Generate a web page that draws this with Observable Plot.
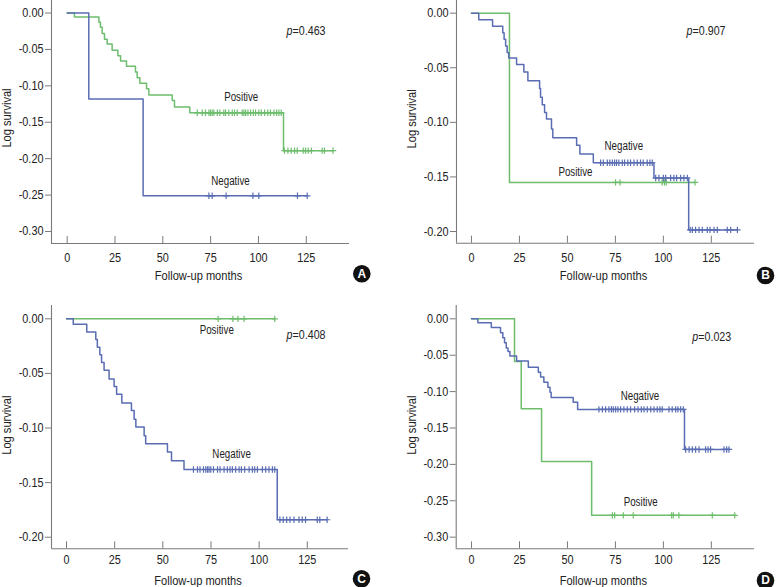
<!DOCTYPE html>
<html><head><meta charset="utf-8">
<script src="https://cdn.jsdelivr.net/npm/d3@7"></script>
<script src="https://cdn.jsdelivr.net/npm/@observablehq/plot@0.6"></script>
<style>
body{margin:0;background:#fff;}
#wrap{position:relative;width:776px;height:587px;overflow:hidden;background:#fff;}
.panel{position:absolute;}
</style></head><body><div id="wrap"></div>
<script>
// ---------- data ----------
const xTicks = [0, 25, 50, 75, 100, 125];
const yTicks3 = [0, -0.05, -0.10, -0.15, -0.20, -0.25, -0.30];
const yTicks2 = [0, -0.05, -0.10, -0.15, -0.20];
const groupNames = ["Positive", "Negative"];
const pValues = ["0.463", "0.907", "0.408", "0.023"];
const panelLetters = ["A", "B", "C", "D"];
const xTitle = "Follow-up months";
const yTitle = "Log survival";

// Panel A
const A_posTimes = [3.8, 16.6, 17.4, 18.3, 19.5, 20.9, 23.5, 26.5, 27.9, 31.0, 35.7, 36.6, 38.0, 41.5, 42.7, 54.9, 56.1, 64.1, 113.1];
const A_posLevels = [-0.0055, -0.0128, -0.0197, -0.028, -0.036, -0.0425, -0.051, -0.0585, -0.066, -0.073, -0.081, -0.089, -0.0965, -0.104, -0.1125, -0.120, -0.129, -0.137, -0.189];
const A_posCensor = [68.0, 70.6, 72.3, 74.1, 74.9, 75.8, 76.7, 78.5, 79.8, 81.9, 82.8, 84.5, 86.3, 87.5, 88.9, 91.5, 92.4, 93.3, 94.5, 95.9, 97.3, 98.5, 100.2, 101.5, 103.2, 104.9, 106.3, 108.1, 109.5, 110.7, 111.9, 113.6, 115.4, 117.1, 118.9, 120.3, 123.4, 124.6, 126.0, 127.7, 133.3, 134.5, 139.0];
const A_negTimes = [11.3, 39.7];
const A_negLevels = [-0.118, -0.251];
const A_negCensor = [74.1, 75.8, 83.1, 97.1, 100.2, 120.4, 125.5];

// Panel B
const B_posTimes = [19.8];
const B_posLevels = [-0.155];
const B_posCensor = [75.1, 77.4, 99.4, 100.6, 101.5, 116.5];
const B_negTimes = [3.8, 11.0, 16.3, 17.0, 17.8, 18.6, 19.4, 23.5, 27.3, 29.4, 35.5, 36.0, 36.9, 38.1, 39.1, 41.7, 42.4, 54.8, 56.5, 63.5, 95.1, 113.2];
const B_negLevels = [-0.006, -0.012, -0.018, -0.024, -0.030, -0.036, -0.041, -0.047, -0.054, -0.062, -0.069, -0.077, -0.084, -0.091, -0.097, -0.106, -0.114, -0.121, -0.129, -0.137, -0.151, -0.1985];
const B_negCensor = [67.3, 68.7, 70.8, 72.1, 73.4, 74.6, 75.6, 76.8, 78.6, 79.8, 81.5, 82.9, 84.7, 86.4, 88.1, 89.5, 91.6, 93.0, 94.2, 96.0, 97.7, 100.0, 101.2, 103.8, 105.5, 106.9, 109.0, 110.7, 112.5, 114.0, 115.1, 116.8, 118.6, 120.3, 122.9, 124.3, 126.4, 128.1, 133.3, 135.1, 138.6];

// Panel C
const C_posTimes = [];
const C_posLevels = [];
const C_posCensor = [78.7, 86.4, 89.0, 92.2, 108.1];
const C_negTimes = [3.5, 10.5, 15.2, 16.0, 17.3, 18.2, 19.5, 22.1, 24.7, 26.0, 28.7, 33.7, 35.1, 36.0, 40.3, 41.1, 52.4, 54.5, 61.0, 109.4];
const C_negLevels = [-0.005, -0.012, -0.019, -0.026, -0.033, -0.040, -0.047, -0.055, -0.062, -0.069, -0.077, -0.084, -0.092, -0.099, -0.107, -0.1145, -0.122, -0.130, -0.138, -0.184];
const C_negCensor = [65.9, 68.0, 69.3, 71.1, 72.3, 73.2, 74.0, 74.9, 76.3, 78.4, 79.7, 81.8, 83.5, 84.9, 86.1, 87.8, 89.6, 90.8, 92.5, 94.8, 96.5, 97.7, 99.1, 101.7, 103.4, 105.1, 106.9, 108.1, 110.8, 112.5, 114.3, 116.0, 118.1, 120.7, 122.4, 124.1, 130.2, 131.5, 135.3];

// Panel D
const D_posTimes = [22.4, 25.9, 36.5, 62.6];
const D_posLevels = [-0.0586, -0.1237, -0.196, -0.270];
const D_posCensor = [73.4, 74.6, 79.1, 84.3, 104.3, 105.2, 108.1, 125.5, 137.2];
const D_negTimes = [3.3, 10.3, 15.1, 16.3, 17.2, 18.1, 19.0, 20.0, 23.5, 29.6, 34.8, 36.0, 37.7, 39.8, 40.9, 41.5, 53.0, 55.3, 111.0];
const D_negLevels = [-0.0055, -0.012, -0.019, -0.026, -0.033, -0.040, -0.045, -0.051, -0.058, -0.0665, -0.0733, -0.080, -0.087, -0.094, -0.101, -0.108, -0.1145, -0.1245, -0.1795];
const D_negCensor = [66.4, 68.2, 69.9, 71.6, 72.9, 73.9, 75.1, 76.3, 77.7, 79.4, 81.2, 82.9, 85.0, 86.8, 88.5, 89.9, 91.6, 93.4, 95.1, 96.8, 98.2, 99.4, 102.9, 104.6, 106.4, 107.6, 109.0, 110.4, 111.6, 113.4, 115.1, 116.8, 118.6, 122.0, 123.3, 124.6, 131.6, 133.0, 134.2];

// group label anchor positions (data units)
const labelPosA = [[91.0, -0.116], [85.4, -0.231]];
const labelPosB = [[54.2, -0.1454], [79.4, -0.122]];
const labelPosC = [[78.0, -0.0098], [85.7, -0.1236]];
const labelPosD = [[88.2, -0.252], [87.8, -0.1067]];

// ---------- styling / layout ----------
const GREEN = "#6dbd6d";
const BLUE = "#5a6db3";
const AXIS = "#7a7a7a";
const FONT = "'Liberation Sans',Arial,sans-serif";

const panels = [
  {left: 0, top: 0, width: 388, height: 290, mL: 51, mR: 39, mT: 0, mB: 47, xd: [-8.2, 147.6], yd: [-0.3165, 0.0172], yTicks: yTicks3, tp: 10,
   pos: [A_posTimes, A_posLevels, A_posCensor], neg: [A_negTimes, A_negLevels, A_negCensor], labels: labelPosA, pdx: -24, pdy: 31, cdx: 12.3, cdy: 30.3, lyDy: -4, xlDy: 32},
  {left: 388, top: 0, width: 388, height: 290, mL: 68, mR: 22, mT: 0, mB: 47.3, xd: [-7.8, 147.5], yd: [-0.2107, 0.0116], yTicks: yTicks2, tp: 10,
   pos: [B_posTimes, B_posLevels, B_posCensor], neg: [B_negTimes, B_negLevels, B_negCensor], labels: labelPosB, pdx: -29, pdy: 31, cdx: 11, cdy: 32.3, lyDy: -3, xlDy: 32},
  {left: 0, top: 290, width: 388, height: 297, mL: 51, mR: 40, mT: 15, mB: 38.7, xd: [-7.8, 146.4], yd: [-0.2106, 0.0122], yTicks: yTicks2, tp: 6.5,
   pos: [C_posTimes, C_posLevels, C_posCensor], neg: [C_negTimes, C_negLevels, C_negCensor], labels: labelPosC, pdx: -23, pdy: 30, cdx: 13, cdy: 30, lyDy: -2, xlDy: 31.5},
  {left: 388, top: 290, width: 388, height: 297, mL: 67.7, mR: 22, mT: 15, mB: 38.7, xd: [-8.0, 147.5], yd: [-0.316, 0.0183], yTicks: yTicks3, tp: 6.5,
   pos: [D_posTimes, D_posLevels, D_posCensor], neg: [D_negTimes, D_negLevels, D_negCensor], labels: labelPosD, pdx: -23.3, pdy: 31.7, cdx: 11, cdy: 31.7, lyDy: -2, xlDy: 31.5}
];

function stepLine([times, levels, censor]) {
  const pts = [{t: 0, v: 0}];
  times.forEach((t, i) => pts.push({t, v: levels[i]}));
  const lastT = Math.max(censor.length ? censor[censor.length - 1] : 0, times.length ? times[times.length - 1] : 0);
  pts.push({t: lastT, v: levels.length ? levels[levels.length - 1] : 0});
  return pts;
}
function censorPts([times, levels, censor]) {
  return censor.map(t => {
    let v = 0;
    times.forEach((et, i) => { if (et <= t) v = levels[i]; });
    return {t, v};
  });
}

// horizontal condensing ratios, to mimic the condensed face of the original
function condenseRatio(s) {
  if (groupNames.includes(s)) return 0.78;
  if (s === xTitle || s === yTitle) return 0.82;
  if (s.startsWith("p=")) return 0.89;
  if (/^-?\d/.test(s)) return 0.87;
  return 1;
}

const wrap = document.getElementById("wrap");
panels.forEach((p, k) => {
  const frameH = p.height - p.mT - p.mB;
  const posLine = stepLine(p.pos), negLine = stepLine(p.neg);
  const posC = censorPts(p.pos), negC = censorPts(p.neg);
  const lab = groupNames.map((g, i) => ({g, t: p.labels[i][0], v: p.labels[i][1]}));
  const chart = Plot.plot({
    width: p.width, height: p.height,
    marginLeft: p.mL, marginRight: p.mR, marginTop: p.mT, marginBottom: p.mB,
    style: {fontFamily: FONT, fontSize: "12px", background: "white", overflow: "visible"},
    x: {domain: p.xd, axis: null},
    y: {domain: p.yd, axis: null},
    marks: [
      Plot.ruleX([p.xd[0]], {stroke: AXIS, strokeWidth: 1.1}),
      Plot.ruleY([p.yd[0]], {stroke: AXIS, strokeWidth: 1.1}),
      Plot.tickX(xTicks, {x: d => d, insetTop: frameH - 7, stroke: AXIS, strokeWidth: 1}),
      Plot.axisX({ticks: xTicks, tickSize: 0, tickPadding: p.tp, fill: "#222", label: null, fontSize: 12.5}),
      Plot.axisY({ticks: p.yTicks, tickFormat: d => d.toFixed(2), tickSize: 6, tickPadding: 2, stroke: AXIS, fill: "#222", label: null, fontSize: 12.5}),
      Plot.line(posLine, {x: "t", y: "v", curve: "step-after", stroke: GREEN, strokeWidth: 1.5}),
      Plot.line(negLine, {x: "t", y: "v", curve: "step-after", stroke: BLUE, strokeWidth: 1.5}),
      Plot.dot(posC, {x: "t", y: "v", symbol: "plus", r: 2.2, stroke: GREEN, strokeWidth: 1.2}),
      Plot.dot(negC, {x: "t", y: "v", symbol: "plus", r: 2.2, stroke: BLUE, strokeWidth: 1.2}),
      Plot.text(lab, {x: "t", y: "v", text: "g", fontSize: 12.5, fill: "#222", textAnchor: "middle", lineAnchor: "middle"}),
      Plot.text(["p=" + pValues[k]], {frameAnchor: "top-right", dx: p.pdx, dy: p.pdy, textAnchor: "end", lineAnchor: "middle", fontSize: 12, fill: "#222"}),
      Plot.text([yTitle], {frameAnchor: "left", rotate: -90, dx: -44.5, dy: p.lyDy, textAnchor: "middle", lineAnchor: "middle", fontSize: 13.5, fill: "#222"}),
      Plot.text([xTitle], {frameAnchor: "bottom", dx: -2, dy: p.xlDy, textAnchor: "middle", lineAnchor: "middle", fontSize: 13.5, fill: "#222"}),
      Plot.dot([panelLetters[k]], {frameAnchor: "bottom-right", dx: p.cdx, dy: p.cdy, r: 8.8, fill: "#111"}),
      Plot.text([panelLetters[k]], {frameAnchor: "bottom-right", dx: p.cdx, dy: p.cdy, textAnchor: "middle", lineAnchor: "middle", text: d => d, fill: "white", fontWeight: "bold", fontSize: 12})
    ]
  });
  const div = document.createElement("div");
  div.className = "panel";
  div.style.left = p.left + "px";
  div.style.top = p.top + "px";
  div.appendChild(chart);
  wrap.appendChild(div);
  d3.select(chart).selectAll("text").each(function () {
    const s = this.textContent;
    const r = condenseRatio(s);
    if (r !== 1) {
      const len = this.getComputedTextLength();
      this.setAttribute("textLength", (len * r).toFixed(1));
      this.setAttribute("lengthAdjust", "spacingAndGlyphs");
    }
    if (s.startsWith("p=") && this.childNodes.length === 1) {
      this.textContent = "";
      d3.select(this).append("tspan").attr("font-style", "italic").text("p");
      d3.select(this).append("tspan").text(s.slice(1));
    }
  });
});
</script></body></html>
